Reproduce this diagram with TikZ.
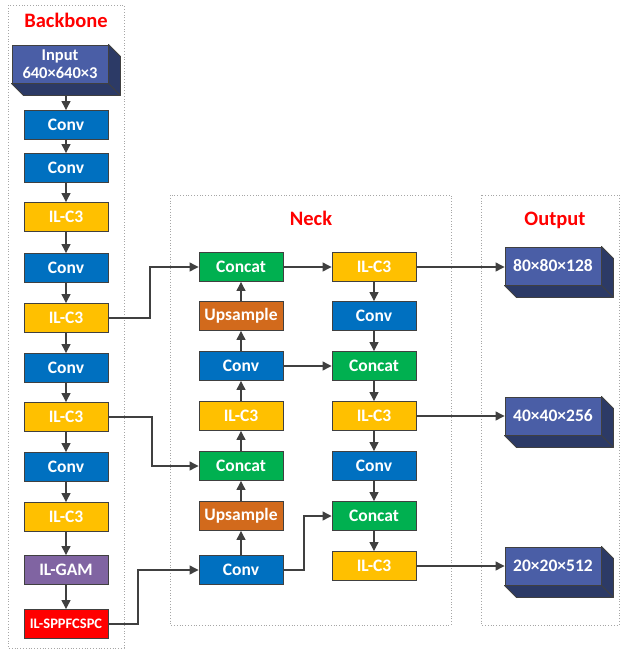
\documentclass[tikz,border=0pt]{standalone}
\usepackage{fontspec}
\setmainfont{Carlito}
\usetikzlibrary{arrows.meta,calc}
\definecolor{cconv}{HTML}{0070C0}
\definecolor{cilc}{HTML}{FFC000}
\definecolor{ccat}{HTML}{00B050}
\definecolor{cups}{HTML}{D26A1C}
\definecolor{cgam}{HTML}{8064A2}
\definecolor{csppf}{HTML}{FF0000}
\definecolor{cfront}{HTML}{4A5EA6}
\definecolor{cside}{HTML}{2C3A66}
\definecolor{cedge}{HTML}{404040}
\tikzset{
  blk/.style={draw=cedge, line width=0.9pt, minimum width=84pt, minimum height=29pt, inner sep=0pt,
    text=white, font=\fontsize{17.5}{20}\selectfont\bfseries},
  convb/.style={blk, fill=cconv},
  ilcb/.style={blk, fill=cilc},
  catb/.style={blk, fill=ccat},
  upsb/.style={blk, fill=cups},
  gamb/.style={blk, fill=cgam},
  sppfb/.style={blk, fill=csppf, font=\fontsize{14.5}{16}\selectfont\bfseries},
  cubef/.style={draw=cedge, line width=0.9pt, fill=cfront, minimum width=96pt, minimum height=38pt, inner sep=0pt,
    text=white, font=\fontsize{17.5}{19}\selectfont\bfseries, align=center},
  cubes/.style={draw=cedge, line width=0.9pt, fill=cside, line join=round},
  arr/.style={draw=cedge, line width=1.2pt, -{Triangle[length=9pt,width=9pt]}},
  frame/.style={draw=gray!70, dotted, line width=0.8pt},
  ttl/.style={text=red, font=\fontsize{20.5}{23}\selectfont\bfseries},
}
\newcommand{\cubeside}[1]{%
  \draw[cubes] (#1.north east) -- ++(12,12) -- ($(#1.south east)+(12,12)$) -- ($(#1.south west)+(12,12)$) -- (#1.south west) -- (#1.south east) -- cycle;
  \draw[cedge, line width=0.9pt] (#1.south east) -- ++(12,12);}
\begin{document}
\begin{tikzpicture}[x=1pt,y=-1pt]
\useasboundingbox (0,0) rectangle (622,651);
% frames
\draw[frame] (8,5) rectangle (124,648);
\draw[frame] (170,195) rectangle (451,625);
\draw[frame] (481,195) rectangle (619,625);
\node[ttl] (tb) at (66,20) {Backbone};
\node[ttl] (tn) at (311,218) {Neck};
\node[ttl] (to) at (555,220) {Output};
% backbone
\node[cubef, font=\fontsize{16.5}{19}\selectfont\bfseries] (in) at (60,64) {Input\\[-1pt]640×640×3};
\cubeside{in}
\coordinate (inb) at (66,95);
\node[convb] (b1) at (66,125) {Conv};
\node[convb] (b2) at (66,168) {Conv};
\node[ilcb] (b3) at (66,217) {IL-C3};
\node[convb] (b4) at (66,268) {Conv};
\node[ilcb] (b5) at (66,318) {IL-C3};
\node[convb] (b6) at (66,368) {Conv};
\node[ilcb] (b7) at (66,417) {IL-C3};
\node[convb] (b8) at (66,467) {Conv};
\node[ilcb] (b9) at (66,517) {IL-C3};
\node[gamb] (b10) at (66,570) {IL-GAM};
\node[sppfb] (b11) at (66,624) {IL-SPPFCSPC};
\draw[arr] (inb) -- (b1);
\foreach \a/\b in {b1/b2,b2/b3,b3/b4,b4/b5,b5/b6,b6/b7,b7/b8,b8/b9,b9/b10,b10/b11}
  \draw[arr] (\a) -- (\b);
% neck column 1
\node[catb] (n1) at (241,267) {Concat};
\node[upsb] (n2) at (241,316) {Upsample};
\node[convb] (n3) at (241,366) {Conv};
\node[ilcb] (n4) at (241,416) {IL-C3};
\node[catb] (n5) at (241,466) {Concat};
\node[upsb] (n6) at (241,516) {Upsample};
\node[convb] (n7) at (241,570) {Conv};
\foreach \a/\b in {n7/n6,n6/n5,n5/n4,n4/n3,n3/n2,n2/n1}
  \draw[arr] (\a) -- (\b);
% neck column 2
\node[ilcb] (m1) at (374,267) {IL-C3};
\node[convb] (m2) at (374,316) {Conv};
\node[catb] (m3) at (374,366) {Concat};
\node[ilcb] (m4) at (374,416) {IL-C3};
\node[convb] (m5) at (374,466) {Conv};
\node[catb] (m6) at (374,516) {Concat};
\node[ilcb] (m7) at (374,566) {IL-C3};
\foreach \a/\b in {m1/m2,m2/m3,m3/m4,m4/m5,m5/m6,m6/m7}
  \draw[arr] (\a) -- (\b);
\draw[arr] (n1) -- (m1);
\draw[arr] (n3) -- (m3);
\draw[arr] (n7.east) -- (304,570) |- (m6.west);
% backbone to neck
\draw[arr] (b5.east) -- (150,318) |- (n1.west);
\draw[arr] (b7.east) -- (152,417) |- (n5.west);
\draw[arr] (b11.east) -- (138,624) |- (n7.west);
% outputs
\node[cubef] (o1) at (553,266) {80×80×128};
\cubeside{o1}
\node[cubef] (o2) at (553,416) {40×40×256};
\cubeside{o2}
\node[cubef] (o3) at (553,566) {20×20×512};
\cubeside{o3}
\draw[arr] (m1.east) -- (o1.west |- m1.east);
\draw[arr] (m4.east) -- (o2.west |- m4.east);
\draw[arr] (m7.east) -- (o3.west |- m7.east);
\end{tikzpicture}
\end{document}
